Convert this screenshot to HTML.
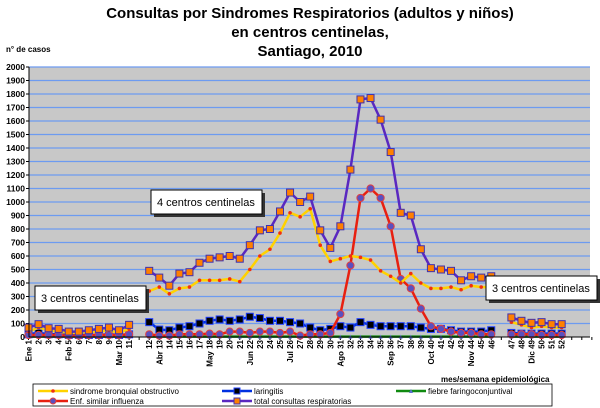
<!DOCTYPE html>
<html><head><meta charset="utf-8">
<style>
html,body{margin:0;padding:0;background:#fff;}
svg{display:block;font-family:"Liberation Sans",Arial,sans-serif;}
</style></head>
<body>
<svg id="c" width="600" height="408" viewBox="0 0 600 408" xmlns="http://www.w3.org/2000/svg">
<text x="310" y="18" font-size="15" font-weight="bold" text-anchor="middle">Consultas por Sindromes Respiratorios (adultos y niños)</text>
<text x="310" y="37" font-size="15" font-weight="bold" text-anchor="middle">en centros centinelas,</text>
<text x="310" y="56" font-size="15" font-weight="bold" text-anchor="middle">Santiago, 2010</text>
<text x="6" y="52" font-size="8" font-weight="bold">n° de casos</text>
<rect x="29" y="67" width="561" height="270" fill="#c8c8c8"/>
<g id="grid"></g>
<g id="series"></g>
<line x1="29" y1="67" x2="29" y2="337" stroke="#000" stroke-width="1"/>
<line x1="29" y1="337" x2="590" y2="337" stroke="#000" stroke-width="1"/>
<g id="ylab" font-size="8.5" font-weight="bold" text-anchor="end"></g>
<g id="xlab" font-size="8" font-weight="bold"></g>
<rect x="38" y="289" width="111" height="24" fill="#333"/>
<rect x="35" y="286" width="111" height="24" fill="#fff" stroke="#000"/>
<text x="41" y="302" font-size="11">3 centros centinelas</text>
<rect x="154" y="193" width="111" height="24" fill="#333"/>
<rect x="151" y="190" width="111" height="24" fill="#fff" stroke="#000"/>
<text x="157" y="206" font-size="11">4 centros centinelas</text>
<rect x="489" y="279" width="111" height="24" fill="#333"/>
<rect x="486" y="276" width="111" height="24" fill="#fff" stroke="#000"/>
<text x="492" y="292" font-size="11">3 centros centinelas</text>
<text x="441" y="382" font-size="8" font-weight="bold">mes/semana epidemiológica</text>
<rect x="33" y="384" width="519" height="22" fill="#fff" stroke="#000" stroke-width="0.8"/>
<g id="leg" font-size="8"></g>
</svg>
<script>
const NS="http://www.w3.org/2000/svg";
function el(p,t,a,txt){const e=document.createElementNS(NS,t);for(const k in a)e.setAttribute(k,a[k]);if(txt!==undefined)e.textContent=txt;document.getElementById(p).appendChild(e);return e;}
const Y=v=>337-v*0.135;
for(let v=0;v<=2000;v+=100){ if(v>0) el("grid","line",{x1:29,x2:590,y1:Y(v),y2:Y(v),stroke:"#6d9bf0","stroke-width":1.2});
 el("ylab","text",{x:25,y:Y(v)+3},String(v)); el("grid","line",{x1:26,x2:29,y1:Y(v),y2:Y(v),stroke:"#000"});}
const idx=w=>w<=11?w-1:(w<=46?w:w+1);
const X=w=>28.5+idx(w)*10.06;
const labs={1:"Ene 1",5:"Feb 5",10:"Mar 10",13:"Abr 13",18:"May 18",22:"Jun 22",26:"Jul 26",31:"Ago 31",36:"Sep 36",40:"Oct 40",44:"Nov 44",49:"Dic 49"};
for(let w=1;w<=52;w++){const x=X(w);const t=labs[w]||String(w);
 const e=el("xlab","text",{x:0,y:0,"text-anchor":"end",transform:`translate(${x+3},340) rotate(-90)`},t);}
for(let i=0;i<=56;i++){el("grid","line",{x1:28.5+i*10.06,x2:28.5+i*10.06,y1:337,y2:340,stroke:"#000"});}
const tot={};const sbo={};const lar={};const inf={};const fie={};
const segs=[[1,11],[12,46],[47,52]];
const T=[70,95,65,60,40,40,50,60,70,50,90, 490,440,380,470,480,550,580,590,600,580,680,790,800,930,1070,1000,1040,790,660,820,1240,1760,1770,1610,1370,920,900,650,510,500,490,420,450,440,450, 145,120,105,110,95,95];
const S=[40,70,50,40,30,30,40,40,50,30,60, 340,370,320,360,370,420,420,420,430,410,500,600,650,770,920,890,950,680,560,580,600,590,570,490,450,400,470,400,360,360,370,350,380,370,370, 110,90,70,80,70,70];
const L=[20,30,20,20,15,15,15,15,20,15,20, 110,55,50,70,80,100,120,130,120,130,150,140,120,120,110,100,70,50,60,80,70,110,90,80,80,80,80,70,60,60,50,40,40,40,50, 30,25,25,25,25,25];
const I=[15,15,15,15,10,10,15,15,15,15,20, 20,10,10,20,20,20,25,20,40,40,30,40,40,30,40,10,20,20,30,170,530,1030,1100,1030,820,430,360,210,80,60,40,30,30,20,20, 20,20,20,15,15,15];
const F=new Array(52).fill(3);
function draw(data,color,mk,mfill,mstroke,sw){
 for(const [a,b] of segs){let pts=[];for(let w=a;w<=b;w++)pts.push(X(w).toFixed(1)+","+Y(data[w-1]).toFixed(1));
  el("series","polyline",{points:pts.join(" "),fill:"none",stroke:color,"stroke-width":sw,"stroke-linejoin":"round"});}
 for(let w=1;w<=52;w++){const x=X(w),y=Y(data[w-1]);
  if(mk=="sq")el("series","rect",{x:x-3.5,y:y-3.5,width:7,height:7,fill:mfill,stroke:mstroke,"stroke-width":1});
  else if(mk=="c")el("series","circle",{cx:x,cy:y,r:mk=="c"?3.6:2,fill:mfill,stroke:mstroke,"stroke-width":1});
  else if(mk=="d")el("series","circle",{cx:x,cy:y,r:1.8,fill:mfill});
  else if(mk=="tri")el("series","path",{d:`M${x-2},${y+2}L${x},${y-2}L${x+2},${y+2}Z`,fill:mfill});}
}
draw(F,"#108a10","tri","#5a6fd0","",2.5);
draw(L,"#0030e0","sq","#000","#2040ff",2.5);
draw(I,"#e82010","c","#5a50c0","#e04040",2.5);
draw(S,"#ffd200","d","#f03010","",2.5);
draw(T,"#5a28c0","sq","#ff8000","#4030b0",2.5);
// legend
function leg(x,y,color,mk,mf,ms,txt){el("leg","line",{x1:x,x2:x+30,y1:y,y2:y,stroke:color,"stroke-width":2.5});
 if(mk=="sq")el("leg","rect",{x:x+12,y:y-3,width:6,height:6,fill:mf,stroke:ms});
 else if(mk=="c")el("leg","circle",{cx:x+15,cy:y,r:3,fill:mf,stroke:ms});
 else if(mk=="d")el("leg","circle",{cx:x+15,cy:y,r:1.8,fill:mf});
 else el("leg","path",{d:`M${x+13},${y+2}L${x+15},${y-2}L${x+17},${y+2}Z`,fill:mf});
 el("leg","text",{x:x+32,y:y+3},txt);}
leg(38,391,"#ffd200","d","#f03010","","sindrome bronquial obstructivo");
leg(38,401,"#e82010","c","#5a50c0","#e04040","Enf. similar influenza");
leg(222,391,"#0030e0","sq","#000","#2040ff","laringitis");
leg(222,401,"#5a28c0","sq","#ff8000","#4030b0","total consultas respiratorias");
leg(396,391,"#108a10","t","#5a6fd0","","fiebre faringoconjuntival");
</script>
</body></html>
